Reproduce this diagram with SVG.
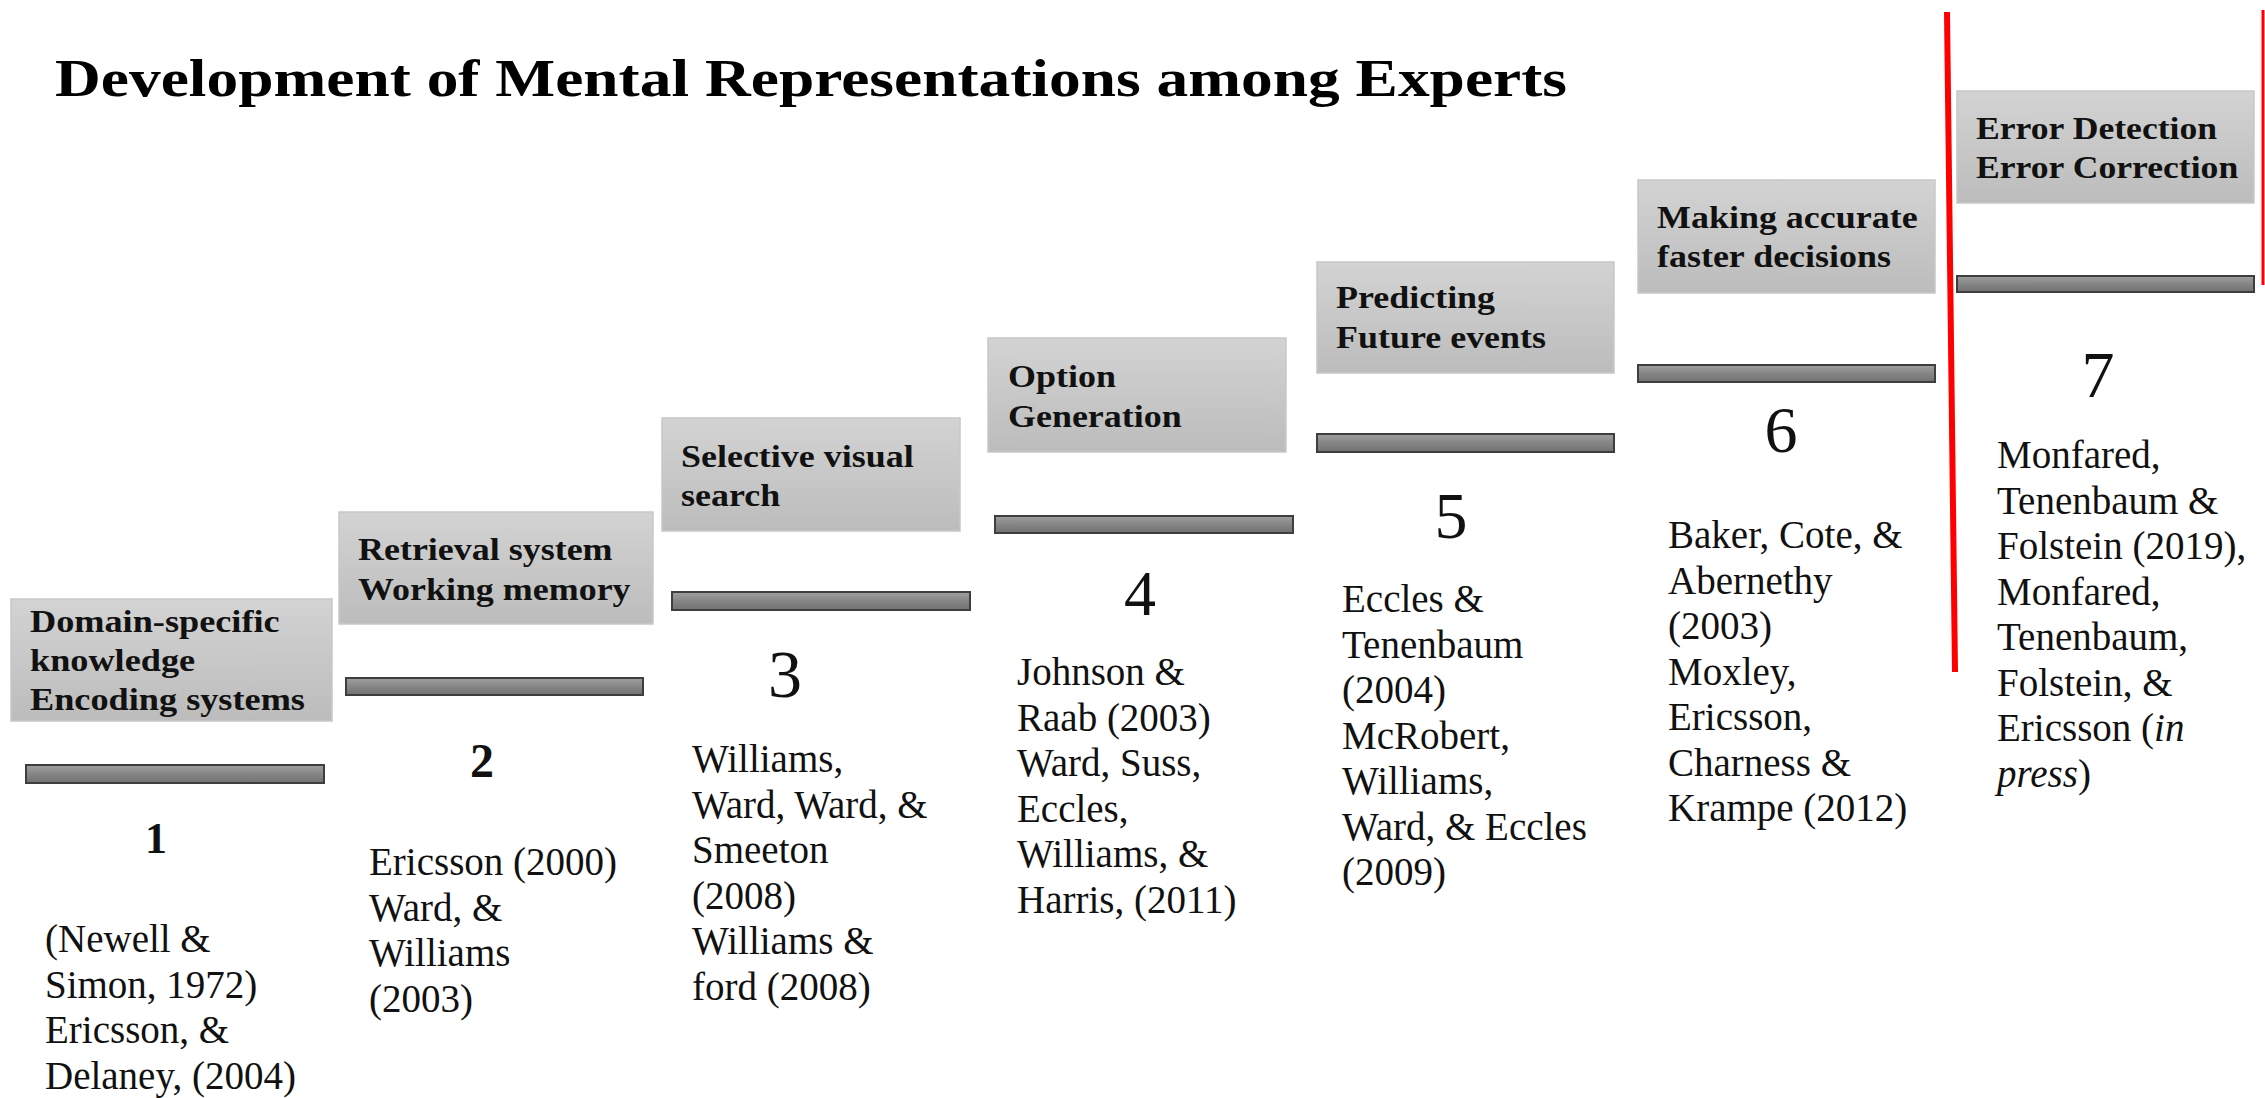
<svg xmlns="http://www.w3.org/2000/svg" width="2265" height="1098" viewBox="0 0 2265 1098">
  <defs>
    <linearGradient id="boxGrad" x1="0" y1="0" x2="0" y2="1">
      <stop offset="0" stop-color="#d3d3d3"/>
      <stop offset="1" stop-color="#bcbcbc"/>
    </linearGradient>
    <linearGradient id="barGrad" x1="0" y1="0" x2="0" y2="1">
      <stop offset="0" stop-color="#a0a0a0"/>
      <stop offset="0.5" stop-color="#858585"/>
      <stop offset="1" stop-color="#727272"/>
    </linearGradient>
    <style>
      .box { fill: url(#boxGrad); stroke: #c8c8c8; stroke-width: 1.5; }
      .bar { fill: url(#barGrad); stroke: #3e3e3e; stroke-width: 2; }
      .title { font-family: "Liberation Serif", serif; font-weight: bold; font-size: 53px; fill: #000; }
      .label { font-family: "Liberation Serif", serif; font-weight: bold; font-size: 31px; fill: #111; }
      .cite { font-family: "Liberation Serif", serif; font-size: 39px; fill: #111; }
      .num { font-family: "Liberation Serif", serif; fill: #111; text-anchor: middle; }
      .divider { stroke: #ff0000; fill: none; }
    </style>
  </defs>

  <rect width="2265" height="1098" fill="#ffffff"/>

  <text class="title" x="55" y="96" textLength="1512" lengthAdjust="spacingAndGlyphs">Development of Mental Representations among Experts</text>

  <!-- vertical separators -->
  <g id="dividers">
    <line class="divider" x1="1947" y1="12" x2="1955" y2="672" stroke-width="6"/>
    <line class="divider" x1="2263" y1="10" x2="2263" y2="285" stroke-width="3"/>
  </g>

  <!-- no connectors between the steps -->
  <g id="connectors"/>

  <!-- step 1 -->
  <g id="step1">
    <rect class="box" x="11" y="599" width="321" height="122"/>
    <text class="label" transform="translate(30 632) scale(1.17 1)"><tspan x="0" y="0">Domain-specific</tspan><tspan x="0" y="39">knowledge</tspan><tspan x="0" y="78">Encoding systems</tspan></text>
    <rect class="bar" x="26" y="765" width="298" height="18"/>
    <text class="num" x="156" y="853" font-size="44" font-weight="bold">1</text>
    <text class="cite" x="45" y="952"><tspan x="45">(Newell &amp;</tspan><tspan x="45" dy="45.5">Simon, 1972)</tspan><tspan x="45" dy="45.5">Ericsson, &amp;</tspan><tspan x="45" dy="45.5">Delaney, (2004)</tspan></text>
  </g>

  <!-- step 2 -->
  <g id="step2">
    <rect class="box" x="339" y="512" width="314" height="112"/>
    <text class="label" transform="translate(358 560) scale(1.16 1)"><tspan x="0" y="0">Retrieval system</tspan><tspan x="0" y="40">Working memory</tspan></text>
    <rect class="bar" x="346" y="678" width="297" height="17"/>
    <text class="num" x="482" y="777" font-size="48" font-weight="bold">2</text>
    <text class="cite" x="369" y="875"><tspan x="369">Ericsson (2000)</tspan><tspan x="369" dy="45.5">Ward, &amp;</tspan><tspan x="369" dy="45.5">Williams</tspan><tspan x="369" dy="45.5">(2003)</tspan></text>
  </g>

  <!-- step 3 -->
  <g id="step3">
    <rect class="box" x="662" y="418" width="298" height="113"/>
    <text class="label" transform="translate(681 467) scale(1.16 1)"><tspan x="0" y="0">Selective visual</tspan><tspan x="0" y="39">search</tspan></text>
    <rect class="bar" x="672" y="592" width="298" height="18"/>
    <text class="num" x="785" y="697" font-size="68">3</text>
    <text class="cite" x="692" y="772"><tspan x="692">Williams,</tspan><tspan x="692" dy="45.5">Ward, Ward, &amp;</tspan><tspan x="692" dy="45.5">Smeeton</tspan><tspan x="692" dy="45.5">(2008)</tspan><tspan x="692" dy="45.5">Williams &amp;</tspan><tspan x="692" dy="45.5">ford (2008)</tspan></text>
  </g>

  <!-- step 4 -->
  <g id="step4">
    <rect class="box" x="988" y="338" width="298" height="114"/>
    <text class="label" transform="translate(1008 387) scale(1.16 1)"><tspan x="0" y="0">Option</tspan><tspan x="0" y="40">Generation</tspan></text>
    <rect class="bar" x="995" y="516" width="298" height="17"/>
    <text class="num" x="1140" y="615" font-size="64">4</text>
    <text class="cite" x="1017" y="685"><tspan x="1017">Johnson &amp;</tspan><tspan x="1017" dy="45.5">Raab (2003)</tspan><tspan x="1017" dy="45.5">Ward, Suss,</tspan><tspan x="1017" dy="45.5">Eccles,</tspan><tspan x="1017" dy="45.5">Williams, &amp;</tspan><tspan x="1017" dy="45.5">Harris, (2011)</tspan></text>
  </g>

  <!-- step 5 -->
  <g id="step5">
    <rect class="box" x="1317" y="262" width="297" height="111"/>
    <text class="label" transform="translate(1336 308) scale(1.16 1)"><tspan x="0" y="0">Predicting</tspan><tspan x="0" y="40">Future events</tspan></text>
    <rect class="bar" x="1317" y="434" width="297" height="18"/>
    <text class="num" x="1451" y="538" font-size="66">5</text>
    <text class="cite" x="1342" y="612"><tspan x="1342">Eccles &amp;</tspan><tspan x="1342" dy="45.5">Tenenbaum</tspan><tspan x="1342" dy="45.5">(2004)</tspan><tspan x="1342" dy="45.5">McRobert,</tspan><tspan x="1342" dy="45.5">Williams,</tspan><tspan x="1342" dy="45.5">Ward, &amp; Eccles</tspan><tspan x="1342" dy="45.5">(2009)</tspan></text>
  </g>

  <!-- step 6 -->
  <g id="step6">
    <rect class="box" x="1638" y="180" width="297" height="113"/>
    <text class="label" transform="translate(1657 228) scale(1.16 1)"><tspan x="0" y="0">Making accurate</tspan><tspan x="0" y="39">faster decisions</tspan></text>
    <rect class="bar" x="1638" y="365" width="297" height="17"/>
    <text class="num" x="1781" y="452" font-size="66">6</text>
    <text class="cite" x="1668" y="548"><tspan x="1668">Baker, Cote, &amp;</tspan><tspan x="1668" dy="45.5">Abernethy</tspan><tspan x="1668" dy="45.5">(2003)</tspan><tspan x="1668" dy="45.5">Moxley,</tspan><tspan x="1668" dy="45.5">Ericsson,</tspan><tspan x="1668" dy="45.5">Charness &amp;</tspan><tspan x="1668" dy="45.5">Krampe (2012)</tspan></text>
  </g>

  <!-- step 7 -->
  <g id="step7">
    <rect class="box" x="1957" y="91" width="297" height="112"/>
    <text class="label" transform="translate(1976 139) scale(1.15 1)"><tspan x="0" y="0">Error Detection</tspan><tspan x="0" y="39">Error Correction</tspan></text>
    <rect class="bar" x="1957" y="276" width="297" height="16"/>
    <text class="num" x="2098" y="397" font-size="66">7</text>
    <text class="cite" x="1997" y="468"><tspan x="1997">Monfared,</tspan><tspan x="1997" dy="45.5">Tenenbaum &amp;</tspan><tspan x="1997" dy="45.5">Folstein (2019),</tspan><tspan x="1997" dy="45.5">Monfared,</tspan><tspan x="1997" dy="45.5">Tenenbaum,</tspan><tspan x="1997" dy="45.5">Folstein, &amp;</tspan><tspan x="1997" dy="45.5">Ericsson (<tspan font-style="italic">in</tspan></tspan><tspan x="1997" dy="45.5"><tspan font-style="italic">press</tspan>)</tspan></text>
  </g>
</svg>
